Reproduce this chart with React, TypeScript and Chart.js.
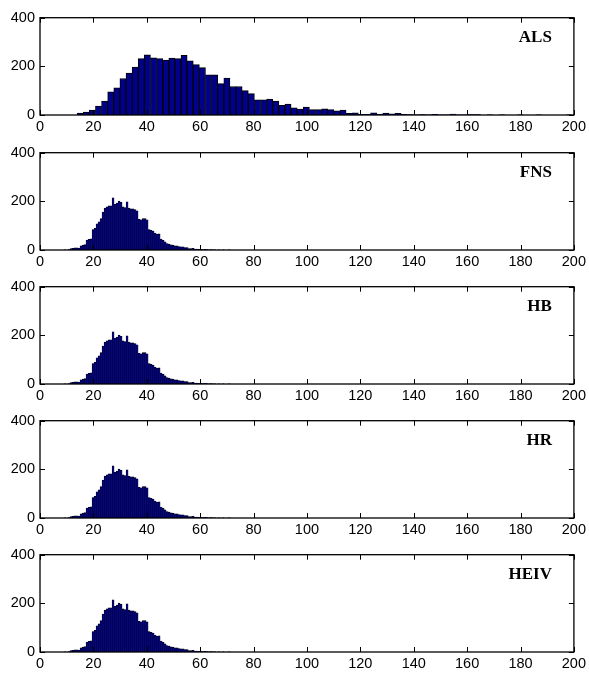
import React, { useEffect, useRef } from "react";
import { Chart, registerables } from "chart.js";

Chart.register(...registerables);

// ---- data ----
const xTicks = [0, 20, 40, 60, 80, 100, 120, 140, 160, 180, 200];
const yTicks = [0, 200, 400];
const panelNames = ["ALS", "FNS", "HB", "HR", "HEIV"];

// ALS histogram (bin start / width in x units)
const alsBinStart = 13.9;
const alsBinWidth = 2.29;
const alsCounts = [
  8, 12, 20, 37, 57, 95, 112, 150, 172, 197, 232, 247, 235, 232, 226, 234, 232, 245, 223, 207,
  195, 165, 165, 129, 152, 117, 117, 100, 88, 62, 62, 65, 57, 40, 45, 29, 24, 33, 22, 22,
  25, 22, 17, 20, 7, 9, 3, 3, 9, 4, 8, 5, 7, 3, 2, 1, 2, 1, 3, 1,
  1, 4, 1, 1, 2, 2, 0, 1, 0, 1, 0, 0, 1, 0, 0, 1, 0, 0, 0, 0, 1,
];

// Other estimators share the same binning
const estBinStart = 9.0;
const estBinWidth = 0.75;
const fnsCounts = [
  1, 0, 2, 6, 7, 9, 9, 8, 17, 20, 22, 41, 44, 46, 84, 89, 108, 116, 129, 156,
  172, 177, 182, 182, 214, 188, 193, 201, 196, 177, 174, 198, 172, 169, 169, 166, 161, 126, 124, 129,
  129, 124, 84, 81, 78, 70, 65, 66, 45, 40, 34, 26, 24, 21, 20, 17, 17, 14, 13, 13,
  10, 10, 6, 6, 7, 4, 4, 3, 3, 2, 3, 2, 1, 2, 1, 1, 0, 1, 0, 1, 0, 0, 1,
];
const hbCounts = [
  1, 0, 2, 6, 7, 9, 9, 8, 17, 20, 22, 41, 44, 46, 84, 89, 108, 116, 129, 156,
  172, 177, 182, 182, 214, 188, 193, 201, 196, 177, 174, 198, 172, 169, 169, 166, 161, 126, 124, 129,
  129, 124, 84, 81, 78, 70, 65, 66, 45, 40, 34, 26, 24, 21, 20, 17, 17, 14, 13, 13,
  10, 10, 6, 6, 7, 4, 4, 3, 3, 2, 3, 2, 1, 2, 1, 1, 0, 1, 0, 1, 0, 0, 1,
];
const hrCounts = [
  1, 0, 2, 6, 7, 9, 9, 8, 17, 20, 22, 41, 44, 46, 84, 89, 108, 116, 129, 156,
  172, 177, 182, 182, 214, 188, 193, 201, 196, 177, 174, 198, 172, 169, 169, 166, 161, 126, 124, 129,
  129, 124, 84, 81, 78, 70, 65, 66, 45, 40, 34, 26, 24, 21, 20, 17, 17, 14, 13, 13,
  10, 10, 6, 6, 7, 4, 4, 3, 3, 2, 3, 2, 1, 2, 1, 1, 0, 1, 0, 1, 0, 0, 1,
];
const heivCounts = [
  1, 0, 2, 6, 7, 9, 9, 8, 17, 20, 22, 41, 44, 46, 84, 89, 108, 116, 129, 156,
  172, 177, 182, 182, 214, 188, 193, 201, 196, 177, 174, 198, 172, 169, 169, 166, 161, 126, 124, 129,
  129, 124, 84, 81, 78, 70, 65, 66, 45, 40, 34, 26, 24, 21, 20, 17, 17, 14, 13, 13,
  10, 10, 6, 6, 7, 4, 4, 3, 3, 2, 3, 2, 1, 2, 1, 1, 0, 1, 0, 1, 0, 0, 1,
];

// ---- layout ----
const PANEL_TOPS = [14, 149, 283, 416.5, 551];
const PLOT_H = 101;
const PAD_TOP = 10;
const XAXIS_H = 22;
const CANVAS_W = 589;
const CANVAS_H = PAD_TOP + PLOT_H + XAXIS_H;
const TICK_FONT = { family: '"Liberation Sans", Arial, Helvetica, sans-serif', size: 14.5 };

const framePlugin = {
  id: "frame",
  afterDraw(chart: any, _args: any, opts: any) {
    const { ctx, chartArea } = chart;
    const { left, right, top, bottom } = chartArea;
    const xs = chart.scales.x;
    const ys = chart.scales.y;
    ctx.save();
    ctx.strokeStyle = "#000";
    ctx.lineWidth = 1;
    ctx.beginPath();
    for (const v of xTicks) {
      const px = Math.round(xs.getPixelForValue(v)) + 0.5;
      ctx.moveTo(px, bottom);
      ctx.lineTo(px, bottom - 5);
      ctx.moveTo(px, top);
      ctx.lineTo(px, top + 5);
    }
    for (const v of yTicks) {
      const py = Math.round(ys.getPixelForValue(v)) + 0.5;
      ctx.moveTo(left, py);
      ctx.lineTo(left + 5, py);
      ctx.moveTo(right, py);
      ctx.lineTo(right - 5, py);
    }
    ctx.stroke();
    ctx.lineWidth = 1.3;
    ctx.strokeRect(left, top, right - left, bottom - top);
    ctx.fillStyle = "#000";
    ctx.font = 'bold 17px "Liberation Serif", "Times New Roman", serif';
    ctx.textAlign = "right";
    ctx.textBaseline = "middle";
    ctx.fillText(opts.label, right - 22, top + 20);
    ctx.restore();
  },
};

type PanelProps = {
  counts: number[];
  binStart: number;
  binWidth: number;
  label: string;
  top: number;
  thin: boolean;
};

function Panel({ counts, binStart, binWidth, label, top, thin }: PanelProps) {
  const ref = useRef<HTMLCanvasElement>(null);
  useEffect(() => {
    const data = counts.map((c, i) => ({ x: binStart + binWidth * (i + 0.5), y: c }));
    const chart = new Chart(ref.current as HTMLCanvasElement, {
      type: "bar",
      data: {
        datasets: [
          {
            data: data as any,
            backgroundColor: "rgb(0,0,140)",
            borderColor: "rgb(0,0,0)",
            borderWidth: thin ? 0.6 : 1,
            barPercentage: 1,
            categoryPercentage: 1,
          },
        ],
      },
      options: {
        animation: false,
        responsive: false,
        layout: { padding: { top: PAD_TOP, right: 14, left: 0, bottom: 0 } },
        plugins: {
          legend: { display: false },
          tooltip: { enabled: false },
          frame: { label },
        } as any,
        scales: {
          x: {
            type: "linear",
            min: 0,
            max: 200,
            offset: false,
            grid: { display: false, drawTicks: false, offset: false },
            border: { display: false },
            ticks: {
              stepSize: 20,
              color: "#000",
              font: TICK_FONT,
              padding: 3,
              maxRotation: 0,
              autoSkip: false,
            },
            afterFit: (s: any) => {
              s.height = XAXIS_H;
            },
          },
          y: {
            min: 0,
            max: 400,
            grid: { display: false, drawTicks: false },
            border: { display: false },
            ticks: { stepSize: 200, color: "#000", font: TICK_FONT, padding: 5 },
            afterFit: (s: any) => {
              s.width = 40;
            },
          },
        },
      },
      plugins: [framePlugin as any],
    });
    return () => chart.destroy();
  }, []);
  return (
    <canvas
      ref={ref}
      width={CANVAS_W}
      height={CANVAS_H}
      style={{ position: "absolute", left: 0, top: top - PAD_TOP, width: CANVAS_W, height: CANVAS_H }}
    />
  );
}

export default function App() {
  const series = [alsCounts, fnsCounts, hbCounts, hrCounts, heivCounts];
  return (
    <div style={{ position: "fixed", left: 0, top: 0, width: 589, height: 674, background: "#fff" }}>
      {series.map((counts, i) => (
        <Panel
          key={panelNames[i]}
          counts={counts}
          binStart={i === 0 ? alsBinStart : estBinStart}
          binWidth={i === 0 ? alsBinWidth : estBinWidth}
          label={panelNames[i]}
          top={PANEL_TOPS[i]}
          thin={i !== 0}
        />
      ))}
    </div>
  );
}
